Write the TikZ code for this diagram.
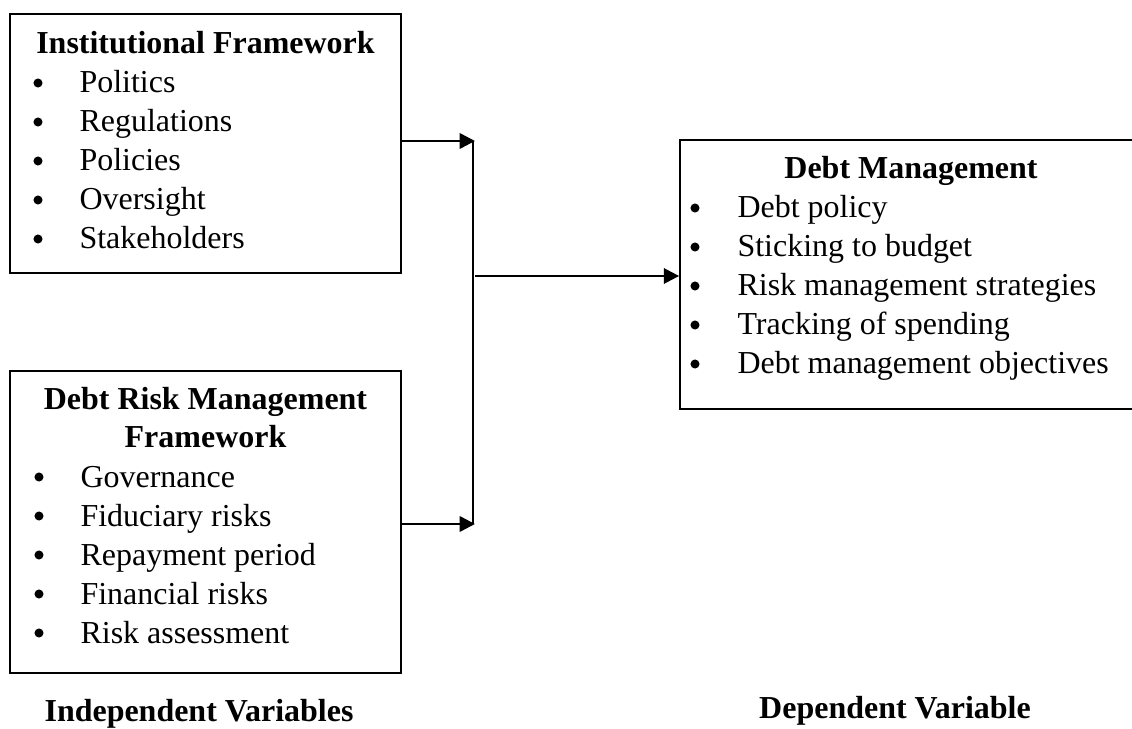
\documentclass[tikz,border=0pt]{standalone}
\usepackage{fontspec}
\setmainfont{Liberation Serif}
\usetikzlibrary{arrows.meta}
\begin{document}
\begin{tikzpicture}[x=0.3534pt,y=-0.3534pt,
  box/.style={draw,line width=0.7pt,inner sep=0pt},
  item/.style={anchor=base west,inner sep=0pt,font=\fontsize{11.3}{13.8}\selectfont},
  bul/.style={circle,fill,inner sep=0pt,minimum size=3.2pt},
  ttl/.style={anchor=base,inner sep=0pt,font=\fontsize{11.3}{13.8}\selectfont\bfseries},
  conn/.style={line width=0.9pt},
  arr/.style={conn,-{Triangle[length=5.4pt,width=5.4pt]}}]
\useasboundingbox (0,0) rectangle (1132,729);
% boxes
\node[box,minimum width=138.2pt,minimum height=91.5pt] (inst) at (205.5,143.5) {};
\node[box,minimum width=138.2pt,minimum height=106.8pt] (risk) at (205.5,522) {};
\node[box,minimum width=163.2pt,minimum height=95.1pt] (debt) at (911,274.5) {};
% titles
\node[ttl] (t1) at (205.5,54) {Institutional Framework};
\node[ttl] (t2a) at (205.5,410) {Debt Risk Management};
\node[ttl] (t2b) at (205.5,448) {Framework};
\node[ttl] (t3) at (911,179) {Debt Management};
% items
\foreach \t [count=\i] in {Politics,Regulations,Policies,Oversight,Stakeholders}{
  \node[bul] (ba\i) at (38,{83+39*(\i-1)}) {};
  \node[item] (ia\i) at (79,{93+39*(\i-1)}) {\t};
}
\foreach \t [count=\i] in {Governance,Fiduciary risks,Repayment period,Financial risks,Risk assessment}{
  \node[bul] (bb\i) at (39,{477+39*(\i-1)}) {};
  \node[item] (ib\i) at (80,{487+39*(\i-1)}) {\t};
}
\foreach \t [count=\i] in {Debt policy,Sticking to budget,Risk management strategies,Tracking of spending,Debt management objectives}{
  \node[bul] (bc\i) at (695,{208+39*(\i-1)}) {};
  \node[item] (ic\i) at (737,{218+39*(\i-1)}) {\t};
}
% bottom labels
\node[ttl] (indep) at (199,721) {Independent Variables};
\node[ttl] (dep) at (895,718) {Dependent Variable};
% connectors
\coordinate (jt) at (475,141);
\coordinate (jb) at (475,524);
\coordinate (vt) at (473,141);
\coordinate (vb) at (473,524);
\coordinate (jm) at (475,276);
\draw[arr] (inst.east |- jt) -- (jt);
\draw[arr] (risk.east |- jb) -- (jb);
\draw[conn] (vt) -- (vb);
\draw[arr] (jm) -- (debt.west |- jm);
\end{tikzpicture}
\end{document}
